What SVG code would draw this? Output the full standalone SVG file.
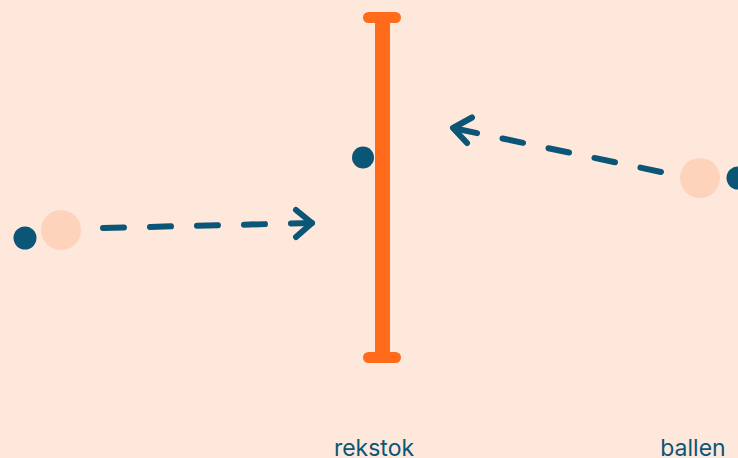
<svg xmlns="http://www.w3.org/2000/svg" width="738" height="458" viewBox="0 0 738 458">
<defs>
<style>
.dash{fill:none;stroke:#0B5577;stroke-width:6;stroke-linecap:round;stroke-linejoin:round;stroke-dasharray:21 26}
.head{fill:none;stroke:#0B5577;stroke-width:6;stroke-linecap:round;stroke-linejoin:round}
.dot{fill:#0B5577}
.ghost{fill:#FED3BC}
.bar{fill:#FF6B1A}
.lbl{font-family:Inter,"Liberation Sans",sans-serif;font-size:23px;fill:#0B5577;text-anchor:middle}
</style>
</defs>
<rect width="738" height="458" fill="#FEE8DC"/>
<g id="rekstok">
<rect class="bar" x="375" y="16" width="15" height="342"/>
<rect class="bar" x="363" y="12" width="38" height="11" rx="5.5"/>
<rect class="bar" x="363" y="352" width="38" height="11" rx="5.5"/>
<circle class="dot" cx="363" cy="157.5" r="11"/>
<text class="lbl" x="374" y="456">rekstok</text>
</g>
<g id="bal-links">
<circle class="ghost" cx="61" cy="230" r="20"/>
<circle class="dot" cx="25" cy="238" r="11.5"/>
</g>
<g id="bal-rechts">
<circle class="ghost" cx="700" cy="178" r="20"/>
<circle class="dot" cx="738" cy="178" r="11.5"/>
<text class="lbl" x="693" y="456">ballen</text>
</g>
<g id="connectors">
<path class="dash" d="M103 228 L312 223"/>
<path class="head" d="M296 210 L312 223 L296 237"/>
<path class="dash" d="M661 172 L453 128"/>
<path class="head" d="M472 117.5 L453 128 L467 143"/>
</g>
</svg>
